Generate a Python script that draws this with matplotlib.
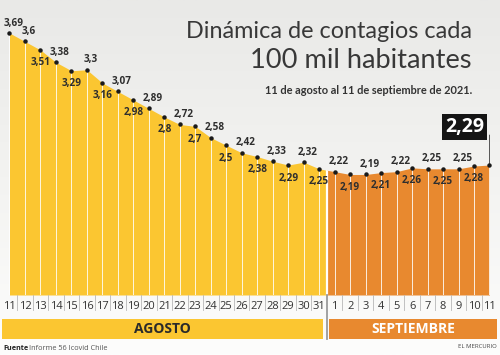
import numpy as np
import matplotlib
matplotlib.use('Agg')
from matplotlib import pyplot as plt
from matplotlib import transforms
from matplotlib.patches import Rectangle

# contagios cada 100 mil habitantes, 11 ago - 11 sep 2021
aug_days = list(range(11, 32))
sep_days = list(range(1, 12))
aug_values = [3.69, 3.6, 3.51, 3.38, 3.29, 3.3, 3.16, 3.07, 2.98, 2.89, 2.8,
              2.72, 2.7, 2.58, 2.5, 2.42, 2.38, 2.33, 2.29, 2.32, 2.25]
sep_values = [2.22, 2.19, 2.19, 2.21, 2.22, 2.26, 2.25, 2.25, 2.25, 2.28, 2.29]
months = ['AGOSTO', 'SEPTIEMBRE']

YELLOW = '#FBC631'
ORANGE = '#E8892F'
DARK = '#2e2e2e'

W, H = 500, 355
fig = plt.figure(figsize=(W / 100, H / 100), dpi=100)

# soft gray background, lighter to the bottom
bg = fig.add_axes([0, 0, 1, 1])
grad = np.linspace(0, 1, 256).reshape(-1, 1)
bg.imshow(grad, aspect='auto', cmap=matplotlib.colors.LinearSegmentedColormap.from_list(
    'bg', ['#e9e9e7', '#f3f3f1', '#fdfdfc']), extent=[0, 1, 0, 1])
bg.set_axis_off()

base_px = 295
ax = fig.add_axes([0, (H - base_px) / H, 1, base_px / H])
ax.set_facecolor('none')

values = np.array(aug_values + sep_values)
x = np.arange(len(values))
n_aug = len(aug_values)
split = n_aug - 0.5

step = 480 / 31
ax.set_xlim(-9.5 / step, 31 + 10.5 / step)
ybase = 0.912
ax.set_ylim(ybase, 4.04)
for s in ax.spines.values():
    s.set_visible(False)
ax.set_yticks([])


def ay(py):
    # pixel row of the figure -> axes fraction
    return (base_px - py) / base_px


area_y = ax.fill_between(x, ybase, values, color=YELLOW, lw=0)
area_y.set_clip_path(Rectangle((-1, ybase), split + 1, 5, transform=ax.transData))
area_o = ax.fill_between(x, ybase, values, color=ORANGE, lw=0)
area_o.set_clip_path(Rectangle((split, ybase), 20, 5, transform=ax.transData))

shape = area_y.get_paths()[0]
ax.vlines(x, ybase, values, colors='white', lw=0.7, alpha=0.85)
sep_line = ax.axvline(split, color='white', lw=1.6)
sep_line.set_clip_path(shape, ax.transData)

ax.plot(x, values, 'o', ms=2.2, color='#1a1a1a', zorder=5)

# point labels, alternating above / below
for i, v in enumerate(values[:-1]):
    txt = ('%g' % v).replace('.', ',')
    if i == 0 or i % 2 == 1:
        off = (4, 10)
    else:
        off = (0, -13)
    ax.annotate(txt, (x[i], v), xytext=off, textcoords='offset pixels',
                ha='center', va='center', fontsize=7.2, fontweight='bold',
                family='Open Sans', color=DARK)

# last value highlighted
last_txt = ('%g' % values[-1]).replace('.', ',')
ax.annotate('', xy=(x[-1], values[-1]), xytext=(0, 30), textcoords='offset pixels',
            arrowprops=dict(arrowstyle='-', color='#555555', lw=0.7,
                            shrinkA=0, shrinkB=0))
ax.annotate(last_txt, (x[-1], values[-1]), xytext=(-25, 38), textcoords='offset pixels',
            ha='center', va='center', fontsize=14, fontweight='bold',
            family='Open Sans', color='white',
            bbox=dict(boxstyle='square,pad=0.16', fc='#151515', ec='none'))

# day ticks
days = [str(d) for d in aug_days + sep_days]
ax.set_xticks(x, labels=days)
ax.tick_params(axis='x', length=0, pad=4, labelsize=8, labelcolor='#333333')
for lab in ax.get_xticklabels():
    lab.set_family('Open Sans')

blend = transforms.blended_transform_factory(ax.transData, ax.transAxes)
for xm in x[:-1] + 0.5:
    if xm == split:
        continue
    ax.plot([xm, xm], [0, ay(310)], color='#b8b8b8', lw=0.6,
            transform=blend, clip_on=False)
ax.plot([split, split], [0, ay(339)], color='#9a9a9a', lw=1.3,
        transform=blend, clip_on=False)

# month bands
bands = [(-7.5 / step, split - 4 / step, YELLOW, '#2a2a2a'),
         (split + 2.5 / step, 31 + 7.5 / step, ORANGE, 'white')]
for (x0, x1, fc, tc), name in zip(bands, months):
    ax.add_patch(Rectangle((x0, ay(339)), x1 - x0, ay(319) - ay(339),
                           transform=blend, fc=fc, ec='none', clip_on=False))
    ax.text((x0 + x1) / 2, ay(329), name, transform=blend, ha='center', va='center',
            fontsize=10, fontweight='bold', family='Open Sans', color=tc)

# titles
fig.text(472 / W, 1 - 31 / H, 'Dinámica de contagios cada', ha='right', va='center',
         fontsize=16.8, fontweight='normal', family='Lato', color='#383838')
fig.text(472 / W, 1 - 61 / H, '100 mil habitantes', ha='right', va='center',
         fontsize=19.6, fontweight='normal', family='Lato', color='#383838')
fig.text(472 / W, 1 - 90 / H, '11 de agosto al 11 de septiembre de 2021.', ha='right',
         va='center', fontsize=7.9, fontweight='bold', family='Lato',
         color='#333333')

fig.text(3 / W, 1 - 348 / H, 'Fuente', ha='left', va='center', fontsize=5.2,
         fontweight='bold', family='Open Sans', color='#222222')
fig.text(29 / W, 1 - 348 / H, 'Informe 56 Icovid Chile', ha='left', va='center',
         fontsize=5.3, family='Open Sans', color='#555555')
fig.text(497 / W, 1 - 347 / H, 'EL MERCURIO', ha='right', va='center', fontsize=4.3,
         family='Open Sans', color='#444444')

fig.savefig('out.png', dpi=100)
